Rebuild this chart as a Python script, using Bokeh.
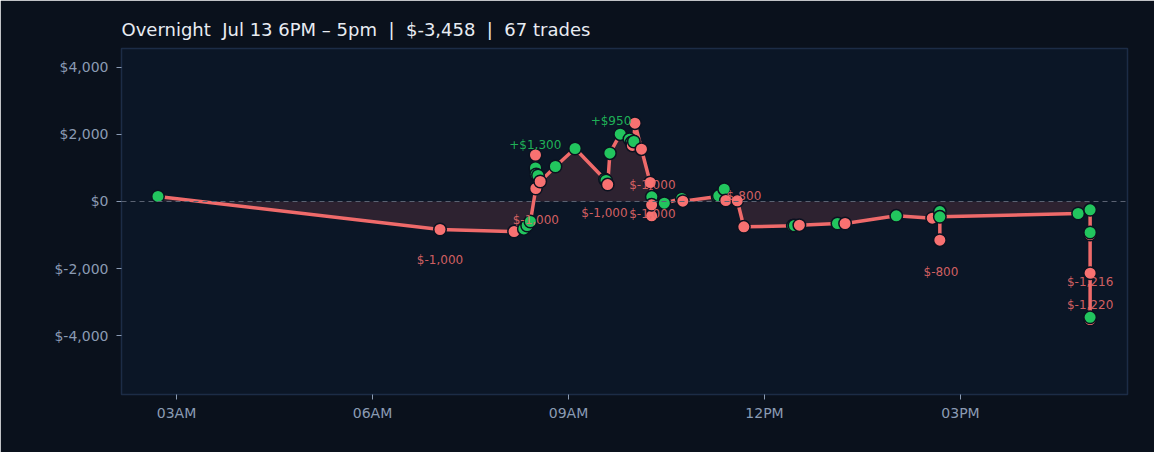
from datetime import datetime
from bokeh.plotting import figure
from bokeh.models import (ColumnDataSource, Range1d, FixedTicker, DatetimeTickFormatter,
                          CustomJSTickFormatter, Span)
from bokeh.core.properties import value
from bokeh.embed import file_html
from bokeh.resources import INLINE

DAY = "2024-07-14"

# ---- data ----
trade_times = [
    "02:43:00", "07:02:00", "08:10:00", "08:19:00", "08:22:00", "08:25:00",
    "08:30:00", "08:29:40", "08:29:40", "08:30:20", "08:32:00", "08:34:00",
    "08:48:00", "09:06:00", "09:33:30", "09:34:30", "09:36:00", "09:38:00",
    "09:47:30", "09:56:00", "09:58:00", "09:58:40", "10:00:00", "10:01:00",
    "10:07:00", "10:15:00", "10:16:30", "10:16:20", "10:16:20", "10:28:00",
    "10:44:00", "10:45:00", "11:17:00", "11:18:00", "11:23:00", "11:24:30",
    "11:35:00", "11:41:00", "12:26:00", "12:27:30", "12:32:00", "13:07:00",
    "13:14:00", "14:01:00", "14:34:00", "14:41:00", "14:41:00", "14:41:00",
    "16:48:00", "16:59:00", "16:59:00", "16:59:00", "16:59:00", "16:59:00",
    "16:59:00",
]
cum_pnl = [
    150, -836, -896, -820, -716, -597,
    388, 1388, 1000, 806, 776, 597,
    1045, 1582, 657, 627, 507, 1442,
    2009, 1860, 1761, 1672, 1791, 2337,
    1561, 567, 140, -427, -99, -51,
    90, 10, 149, 170, 367, 30,
    21, -755, -725, -716, -707, -657,
    -657, -427, -498, -299, -1155, -457,
    -358, -248, -985, -925, -2140, -3522,
    -3458,
]
point_kind = [
    "G", "R", "R", "G", "G", "G",
    "R", "R", "G", "G", "G", "R",
    "G", "G", "G", "G", "R", "G",
    "G", "G", "G", "R", "G", "R",
    "R", "R", "G", "R", "R", "G",
    "G", "R", "G", "G", "G", "R",
    "R", "R", "G", "G", "R", "G",
    "R", "G", "R", "G", "R", "G",
    "G", "G", "R", "G", "R", "R",
    "G",
]

label_texts = ["+$1,300", "+$950", "$-1,000", "$-1,000", "$-1,000", "$-1,000",
               "$-1,000", "$-800", "$-800", "$-1,216", "$-1,220"]
label_times = ["08:29:30", "09:39:00", "07:02:00", "08:30:00", "09:33:00", "10:17:00",
               "10:17:00", "11:41:00", "14:42:00", "16:59:00", "16:59:00"]
label_values = [1672, 2388, -1761, -567, -358, 507, -388, 179, -2090, -2388, -3075]
label_kind = ["G", "G", "R", "R", "R", "R", "R", "R", "R", "R", "R"]

y_ticks = [-4000, -2000, 0, 2000, 4000]
x_tick_times = ["03:00", "06:00", "09:00", "12:00", "15:00"]
x_start, x_end = "02:09:30", "17:33:20"
y_start, y_end = -5761, 4567

NB = "\u00a0"
title_text = (f"Overnight{NB} Jul 13 6PM \u2013 5pm{NB} |{NB} $-3,458{NB} |{NB} 67 trades")

# ---- styling ----
GREEN = "#22c55e"
RED = "#f87171"
LINE = "#ef6a6a"
OUTER_BG = "#0a111c"
PLOT_BG = "#0b1626"
FONT = "DejaVu Sans"


def ts(t):
    return datetime.fromisoformat(f"{DAY}T{t}")


xs = [ts(t) for t in trade_times]
colors = [GREEN if k == "G" else RED for k in point_kind]
src = ColumnDataSource(dict(x=xs, y=cum_pnl, zero=[0] * len(xs), c=colors))

p = figure(width=1154, height=452, x_axis_type="datetime",
           output_backend="svg", toolbar_location=None,
           x_range=Range1d(ts(x_start), ts(x_end)),
           y_range=Range1d(y_start, y_end),
           min_border_left=121, min_border_right=27,
           min_border_top=48, min_border_bottom=58)

p.background_fill_color = PLOT_BG
p.border_fill_color = OUTER_BG
p.outline_line_color = "#1c2c46"
p.outline_line_width = 1.5
p.grid.visible = False

p.title.text = title_text
p.title.text_font = FONT
p.title.text_font_size = "18px"
p.title.text_font_style = "normal"
p.title.text_color = "#e8ecf2"
p.title.align = "left"
p.title.standoff = 17

for ax in (p.xaxis[0], p.yaxis[0]):
    ax.axis_line_color = None
    ax.major_tick_line_color = "#8a9bb3"
    ax.major_tick_in = 0
    ax.major_tick_out = 5
    ax.minor_tick_line_color = None
    ax.major_label_text_font = FONT
    ax.major_label_text_font_size = "14px"
    ax.major_label_text_color = "#8a9bb3"
    ax.major_label_standoff = 8
p.xaxis[0].major_label_standoff = 5

p.xaxis.ticker = FixedTicker(ticks=[ts(t).timestamp() * 1000 for t in x_tick_times])
p.xaxis.formatter = DatetimeTickFormatter(hours="%I%p", minutes="%I%p", hourmin="%I%p", days="%I%p")
p.yaxis.ticker = FixedTicker(ticks=y_ticks)
p.yaxis.formatter = CustomJSTickFormatter(code="return '$' + tick.toLocaleString('en-US');")

# area between curve and zero
p.varea(x="x", y1="zero", y2="y", source=src, fill_color=LINE, fill_alpha=0.15)

# zero line
p.add_layout(Span(location=0, dimension="width", line_color="#5a6272",
                  line_dash="5 4", line_width=1.2))

p.line(x="x", y="y", source=src, line_color=LINE, line_width=3.5, line_join="round")
p.scatter(x="x", y="y", source=src, size=12.5, fill_color="c",
          line_color="#0b1220", line_width=1.5)

lsrc = ColumnDataSource(dict(
    x=[ts(t) for t in label_times], y=label_values, t=label_texts,
    c=[GREEN if k == "G" else "#e86a6a" for k in label_kind]))
p.text(x="x", y="y", text="t", source=lsrc, text_color="c",
       text_font=value(FONT), text_font_size="12px",
       text_align="center", text_baseline="middle", text_alpha=0.9)

html = file_html(p, INLINE)
html = html.replace("<body>", f'<body style="margin:8px;background:{OUTER_BG};">', 1)
open("out.html", "w").write(html)
